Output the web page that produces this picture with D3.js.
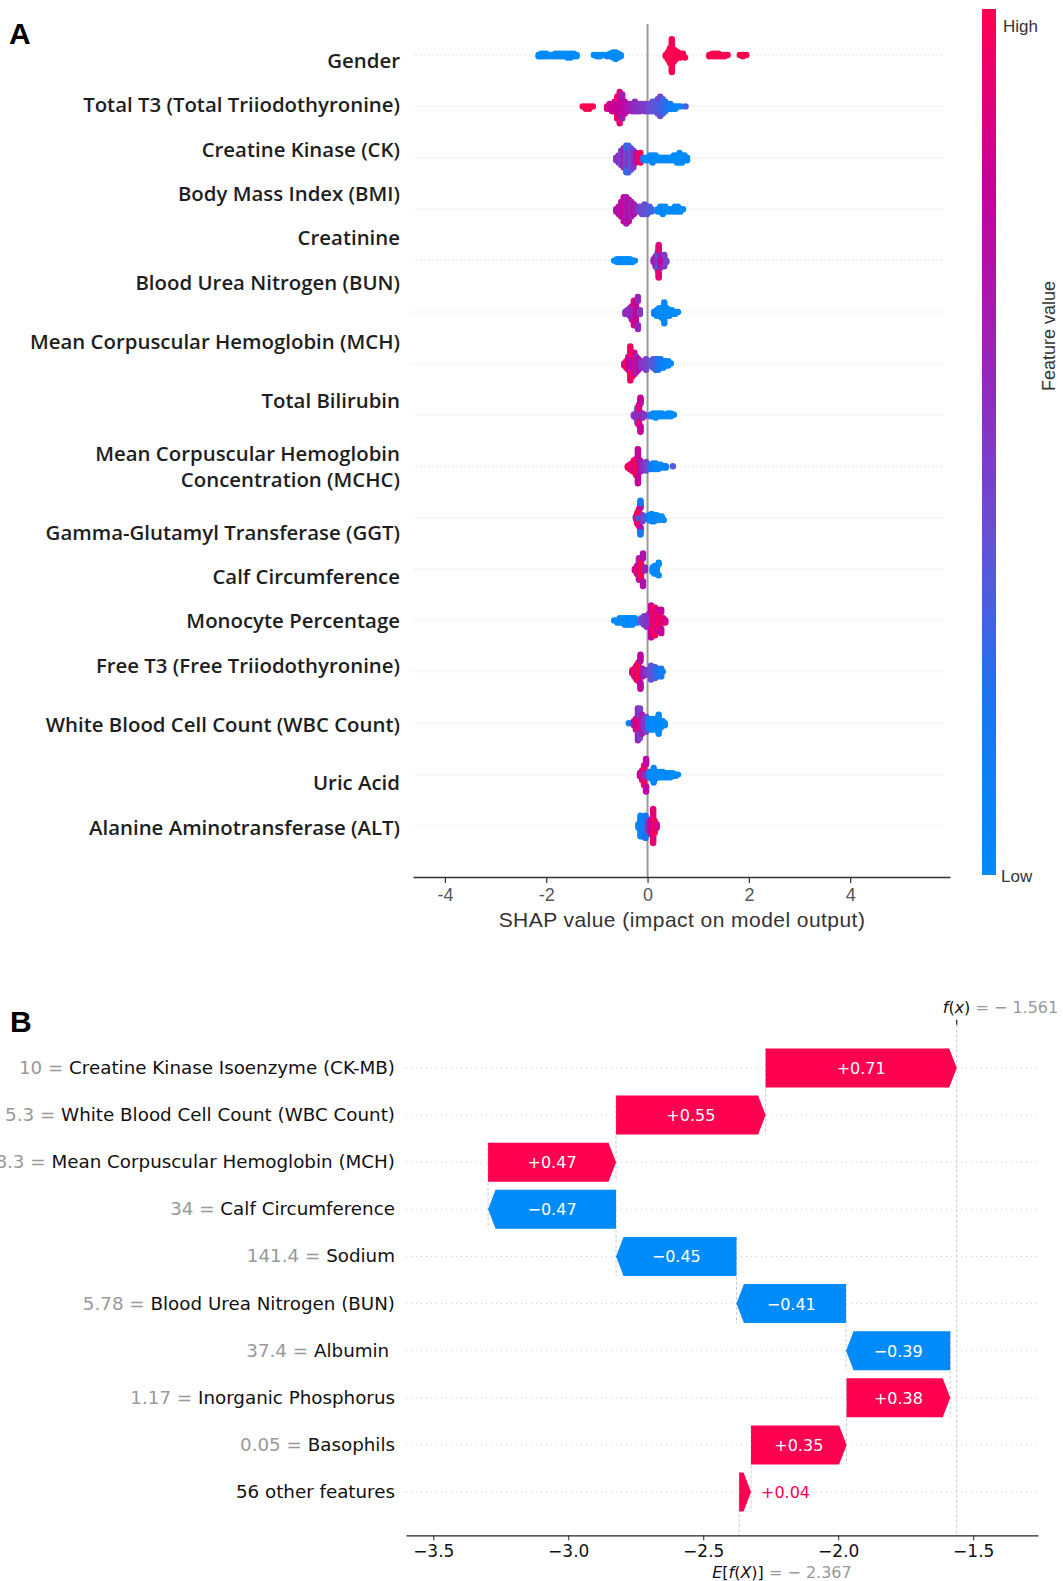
<!DOCTYPE html>
<html>
<head>
<meta charset="utf-8">
<script src="https://cdn.jsdelivr.net/npm/d3@7"></script>
<style>
body { margin: 0; background: #fff; }
svg { display: block; }
</style>
</head>
<body>
<div id="chart"></div>
<script>
// ---------- panel A : SHAP summary (beeswarm) ----------
// feature names, top to bottom
var featuresA = ["Gender", "Total T3 (Total Triiodothyronine)", "Creatine Kinase (CK)", "Body Mass Index (BMI)",
  "Creatinine", "Blood Urea Nitrogen (BUN)", "Mean Corpuscular Hemoglobin (MCH)", "Total Bilirubin",
  "Mean Corpuscular Hemoglobin|Concentration (MCHC)", "Gamma-Glutamyl Transferase (GGT)", "Calf Circumference",
  "Monocyte Percentage", "Free T3 (Free Triiodothyronine)", "White Blood Cell Count (WBC Count)", "Uric Acid",
  "Alanine Aminotransferase (ALT)"];

// points: [shap value, how many dots at that value, feature value 0..1]
var ptsGender = [[-2.15,2,0],[-2.1,3,0.02],[-2.05,3,0],[-2.0,3,0.03],[-1.95,2,0],[-1.88,2,0],[-1.82,3,0],[-1.76,3,0.05],
  [-1.7,3,0],[-1.64,3,0],[-1.58,4,0],[-1.52,4,0.02],[-1.46,3,0],[-1.4,2,0],
  [-1.06,1,0],[-1.0,2,0],[-0.94,2,0],[-0.88,1,0],[-0.8,2,0.05],[-0.74,3,0],[-0.68,5,0],[-0.63,6,0],[-0.58,4,0],[-0.53,2,0],
  [0.36,2,1],[0.4,6,1],[0.44,12,1],[0.48,14,1],[0.52,10,0.98],[0.56,7,1],[0.6,5,1],[0.65,4,1],[0.7,3,1],[0.74,1,1],
  [1.22,2,1],[1.28,3,1],[1.34,3,1],[1.4,3,1],[1.46,2,1],[1.52,2,1],[1.58,1,1],[1.82,1,1],[1.88,2,1],[1.95,1,1]];
var ptsTotalT3 = [[-1.28,1,1],[-1.22,2,1],[-1.15,2,1],[-1.08,1,1],
  [-0.8,2,0.85],[-0.75,3,0.85],[-0.7,4,0.8],[-0.65,5,0.82],[-0.6,6,0.8],[-0.6,4,0.95],[-0.55,8,0.78],[-0.55,6,0.9],
  [-0.5,7,0.8],[-0.5,4,0.65],[-0.45,6,0.75],[-0.4,4,0.7],[-0.35,3,0.65],
  [-0.3,4,0.6],[-0.25,5,0.55],[-0.2,4,0.55],[-0.15,4,0.5],[-0.1,3,0.5],[-0.05,4,0.5],[0.0,4,0.45],
  [0.05,4,0.4],[0.1,5,0.4],[0.15,5,0.35],[0.2,7,0.35],[0.25,6,0.3],[0.25,3,0.45],[0.3,7,0.3],[0.35,5,0.25],[0.4,3,0.2],[0.45,3,0.15],
  [0.5,2,0.1],[0.55,2,0.05],[0.6,1,0.05],[0.66,1,0.05],[0.75,1,0.3]];
var ptsCK = [[-0.62,2,0.5],[-0.57,4,0.55],[-0.52,7,0.45],[-0.47,9,0.6],[-0.42,8,0.4],[-0.42,4,0.25],[-0.38,8,0.55],[-0.38,4,0.3],
  [-0.33,10,0.35],[-0.28,8,0.5],[-0.23,5,0.7],[-0.18,3,0.9],[-0.14,2,1],
  [-0.08,2,0.1],[-0.02,2,0.05],[0.05,3,0],[0.1,4,0.05],[0.16,3,0],[0.22,2,0],[0.28,2,0],[0.34,2,0.05],[0.4,2,0],[0.46,2,0],
  [0.52,3,0],[0.58,4,0],[0.63,5,0],[0.68,4,0],[0.73,3,0],[0.78,2,0.05]];
var ptsBMI = [[-0.62,2,0.7],[-0.57,4,0.75],[-0.52,7,0.7],[-0.47,11,0.8],[-0.42,12,0.65],[-0.37,10,0.75],[-0.32,7,0.6],
  [-0.27,5,0.7],[-0.22,3,0.6],
  [-0.16,3,0.45],[-0.11,4,0.4],[-0.06,5,0.4],[-0.01,4,0.35],[0.04,3,0.35],[0.08,2,0.3],
  [0.2,2,0.05],[0.25,3,0],[0.3,4,0.05],[0.35,3,0],[0.42,2,0],[0.48,2,0],[0.54,3,0],[0.6,3,0],[0.65,2,0],[0.7,1,0]];
var ptsCreatinine = [[-0.66,1,0],[-0.6,3,0],[-0.55,3,0],[-0.5,3,0.05],[-0.45,3,0],[-0.4,3,0],[-0.35,3,0],[-0.3,2,0],[-0.25,1,0],
  [0.12,3,0.55],[0.16,8,0.7],[0.2,8,0.5],[0.2,6,0.35],[0.22,10,0.9],[0.25,10,0.6],[0.29,6,0.8],[0.33,3,0.5],[0.37,2,0.45]];
var ptsBUN = [[-0.44,2,0.5],[-0.4,3,0.6],[-0.35,5,0.5],[-0.31,8,0.65],[-0.27,8,0.55],[-0.27,6,0.9],[-0.23,12,0.8],
  [-0.19,6,0.6],[-0.15,3,0.5],
  [0.13,2,0.1],[0.18,4,0.05],[0.23,5,0],[0.28,6,0],[0.33,6,0.05],[0.38,5,0],[0.43,4,0],[0.48,3,0],[0.54,2,0],[0.6,1,0]];
var ptsMCH = [[-0.46,2,0.9],[-0.42,4,1],[-0.38,7,0.8],[-0.34,10,0.95],[-0.3,8,0.7],[-0.3,4,1],[-0.26,11,0.85],[-0.22,8,0.6],
  [-0.18,6,0.75],[-0.13,4,0.55],[-0.08,3,0.5],[-0.03,3,0.45],[0.02,3,0.45],
  [0.06,3,0.4],[0.11,5,0.35],[0.16,6,0.3],[0.21,6,0.2],[0.26,5,0.15],[0.31,4,0.1],[0.36,3,0.05],[0.41,3,0.05],[0.46,1,0]];
var ptsBilirubin = [[-0.27,2,0.5],[-0.23,4,0.6],[-0.2,8,0.4],[-0.17,8,0.55],[-0.17,7,0.9],[-0.14,10,0.8],[-0.1,4,0.6],[-0.06,2,0.5],
  [0.06,2,0.1],[0.11,3,0],[0.16,4,0],[0.22,3,0],[0.28,3,0],[0.34,2,0],[0.4,3,0],[0.46,3,0],[0.52,1,0]];
var ptsMCHC = [[-0.39,2,1],[-0.35,4,0.95],[-0.31,6,0.9],[-0.27,9,0.85],[-0.23,12,1],[-0.19,13,0.8],[-0.15,9,0.7],
  [-0.11,6,0.6],[-0.07,4,0.5],[-0.03,3,0.45],[0.01,3,0.4],
  [0.06,4,0.2],[0.11,5,0.1],[0.16,5,0.05],[0.21,4,0],[0.26,3,0.05],[0.31,2,0],[0.36,2,0.1],[0.5,1,0.35]];
var ptsGGT = [[-0.23,3,0.6],[-0.2,7,0.9],[-0.17,8,0.3],[-0.17,7,1],[-0.14,8,0.7],[-0.14,6,0.15],[-0.1,6,0.5],[-0.06,3,0.4],[-0.02,3,0.3],
  [0.03,5,0.05],[0.08,7,0],[0.13,6,0.05],[0.18,5,0],[0.23,4,0],[0.28,3,0],[0.32,1,0]];
var ptsCalf = [[-0.25,2,0.8],[-0.21,6,0.9],[-0.17,8,0.85],[-0.17,7,0.6],[-0.13,14,1],[-0.09,8,0.7],[-0.05,3,0.6],
  [0.1,4,0],[0.14,6,0.05],[0.18,6,0],[0.22,3,0]];
var ptsMonocyte = [[-0.66,1,0],[-0.6,2,0],[-0.55,3,0.05],[-0.5,3,0],[-0.45,4,0],[-0.4,4,0],[-0.35,4,0.05],[-0.3,4,0],[-0.25,3,0],[-0.2,2,0.1],
  [-0.12,3,0.4],[-0.07,5,0.45],[-0.02,6,0.5],[0.03,7,0.55],
  [0.07,9,0.8],[0.11,13,0.9],[0.15,14,1],[0.19,11,0.85],[0.23,7,0.95],[0.27,5,0.8],[0.31,3,0.9],[0.35,2,0.85]];
var ptsFreeT3 = [[-0.3,3,0.9],[-0.26,6,0.95],[-0.22,10,0.85],[-0.18,13,1],[-0.14,10,0.75],[-0.1,6,0.7],[-0.06,4,0.6],[-0.02,3,0.5],
  [0.03,4,0.45],[0.07,6,0.4],[0.11,7,0.3],[0.15,8,0.35],[0.19,6,0.25],[0.23,4,0.2],[0.27,2,0.15],[0.3,1,0.1]];
var ptsWBC = [[-0.37,1,0.05],[-0.3,1,0.2],
  [-0.27,3,0.7],[-0.23,6,0.85],[-0.19,10,0.6],[-0.15,8,0.9],[-0.15,7,0.45],[-0.11,10,0.65],[-0.07,5,0.5],[-0.03,3,0.45],
  [0.02,5,0.1],[0.06,6,0.05],[0.1,6,0],[0.14,6,0],[0.18,5,0.05],[0.22,5,0],[0.26,4,0],[0.3,3,0],[0.34,2,0]];
var ptsUric = [[-0.15,3,0.8],[-0.11,8,0.9],[-0.07,9,0.55],[-0.07,7,0.95],[-0.03,10,0.75],[0.0,4,0.5],
  [0.04,5,0.05],[0.08,6,0],[0.12,6,0.05],[0.16,6,0],[0.2,5,0],[0.25,5,0],[0.3,5,0],[0.35,4,0],[0.4,4,0.05],
  [0.45,4,0],[0.5,3,0],[0.55,2,0],[0.6,1,0]];
var ptsALT = [[-0.18,3,0.05],[-0.14,10,0],[-0.11,12,0.1],[-0.08,8,0.05],[-0.04,6,0.2],[0.0,6,0.4],[0.04,7,0.6],
  [0.08,10,0.8],[0.11,11,0.9],[0.14,8,1],[0.18,3,0.85]];

var swarmRows = [ptsGender, ptsTotalT3, ptsCK, ptsBMI, ptsCreatinine, ptsBUN, ptsMCH, ptsBilirubin, ptsMCHC,
  ptsGGT, ptsCalf, ptsMonocyte, ptsFreeT3, ptsWBC, ptsUric, ptsALT];
var ticksA = [-4, -2, 0, 2, 4];

// ---------- panel B : SHAP waterfall ----------
var featValsB = ["10", "5.3", "28.3", "34", "141.4", "5.78", "37.4", "1.17", "0.05", ""];
var featNamesB = ["Creatine Kinase Isoenzyme (CK-MB)", "White Blood Cell Count (WBC Count)",
  "Mean Corpuscular Hemoglobin (MCH)", "Calf Circumference", "Sodium", "Blood Urea Nitrogen (BUN)",
  "Albumin\u00a0", "Inorganic Phosphorus", "Basophils", "56 other features"];
var shapB = [0.708, 0.554, 0.474, -0.474, -0.446, -0.406, -0.386, 0.384, 0.354, 0.044];
var baseValue = -2.367;
var fxValue = -1.561;
var ticksB = [-3.5, -3.0, -2.5, -2.0, -1.5];

// ---------- layout ----------
var W = 1063, H = 1581;
var red = "#ff0051", blue = "#008bfb";
// shap red-blue map, low -> high
var colorFV = d3.piecewise(d3.interpolateRgb,
  [blue, "#1a74f0", "#6a4ed2", "#9a22b8", "#c8009a", red]);
// label positions in panel A (pasted labels, not aligned with the dot rows)
var labelYA = [61, 105, 150, 194, 238, 283, 342, 401, 467, 533, 577, 621, 666, 725, 783, 828];

var svg = d3.select("#chart").append("svg").attr("width", W).attr("height", H)
  .style("font-family", "'Liberation Sans', Arial, sans-serif");
svg.append("rect").attr("width", W).attr("height", H).attr("fill", "#fff");

// panel letters
svg.append("text").attr("x", 9).attr("y", 44).text("A")
  .style("font-size", "30px").style("font-weight", "bold");
svg.append("text").attr("x", 10).attr("y", 1032).text("B")
  .style("font-size", "30px").style("font-weight", "bold");

// ===== panel A =====
var xA = d3.scaleLinear().domain([-4.63, 5.97]).range([413, 950]);
var yA = d3.scalePoint().domain(d3.range(featuresA.length)).range([55, 826]);
var gA = svg.append("g");

// faint row lines
gA.selectAll(".rowline").data(featuresA).enter().append("line")
  .attr("x1", 413).attr("x2", 945)
  .attr("y1", function(d, i) { return yA(i); }).attr("y2", function(d, i) { return yA(i); })
  .attr("stroke", "#d8d8d8").attr("stroke-width", 1).attr("stroke-dasharray", "1,3");

// zero line
gA.append("line").attr("x1", xA(0)).attr("x2", xA(0)).attr("y1", 24).attr("y2", 877)
  .attr("stroke", "#9a9a9a").attr("stroke-width", 2);

// beeswarm: stack dots that fall in the same small x bin
var binW = 2.6;
swarmRows.forEach(function(row, ri) {
  var pts = [];
  row.forEach(function(g) {
    for (var k = 0; k < g[1]; k++) pts.push({px: xA(g[0]), fv: g[2]});
  });
  pts.sort(function(a, b) { return a.px - b.px; });
  var lastBin = null, layer = 0;
  pts.forEach(function(p) {
    var bin = Math.round(p.px / binW);
    if (bin !== lastBin) layer = 0;
    p.k = Math.ceil(layer / 2) * (layer % 2 ? 1 : -1);
    layer++; lastBin = bin;
  });
  var maxK = d3.max(pts, function(p) { return Math.abs(p.k); }) || 1;
  var step = Math.min(2.4, 17 / maxK);
  gA.append("g").selectAll("circle").data(pts).enter().append("circle")
    .attr("cx", function(p) { return p.px; })
    .attr("cy", function(p) { return yA(ri) + p.k * step; })
    .attr("r", 3.2)
    .attr("fill", function(p) { return colorFV(p.fv); });
});

// x axis
var axA = gA.append("g").attr("transform", "translate(0,877)")
  .call(d3.axisBottom(xA).tickValues(ticksA).tickSize(6).tickSizeOuter(0).tickFormat(function(d) { return String(d); }));
axA.select(".domain").attr("stroke", "#333").attr("stroke-width", 1.4);
axA.selectAll(".tick line").attr("stroke", "#333").attr("stroke-width", 1.2);
axA.selectAll(".tick text").attr("y", 11).attr("fill", "#555")
  .style("font-size", "18px").style("font-family", "'Liberation Sans', Arial, sans-serif");
gA.append("text").attr("x", 682).attr("y", 927).attr("text-anchor", "middle")
  .style("font-size", "21px").style("letter-spacing", "0.45px").attr("fill", "#333")
  .text("SHAP value (impact on model output)");

// feature labels
var labA = gA.selectAll(".labA").data(featuresA).enter().append("text")
  .attr("text-anchor", "end").attr("fill", "#1e1e1e")
  .style("font-family", "'Open Sans', 'Noto Sans', sans-serif").style("font-weight", 600).style("font-size", "20.4px");
labA.each(function(d, i) {
  var parts = d.split("|");
  var t = d3.select(this);
  if (parts.length === 1) {
    t.append("tspan").attr("x", 400).attr("y", labelYA[i] + 7).text(parts[0]);
  } else {
    t.append("tspan").attr("x", 400).attr("y", labelYA[i] - 13 + 7).text(parts[0]);
    t.append("tspan").attr("x", 400).attr("y", labelYA[i] + 13 + 7).text(parts[1]);
  }
});

// colour bar
var defs = svg.append("defs");
var grad = defs.append("linearGradient").attr("id", "fvgrad")
  .attr("x1", 0).attr("y1", 1).attr("x2", 0).attr("y2", 0);
d3.range(0, 1.0001, 0.05).forEach(function(t) {
  grad.append("stop").attr("offset", t).attr("stop-color", colorFV(t));
});
svg.append("rect").attr("x", 982).attr("y", 9).attr("width", 14).attr("height", 866).attr("fill", "url(#fvgrad)");
svg.append("text").attr("x", 1003).attr("y", 32).text("High").attr("fill", "#333").style("font-size", "17px");
svg.append("text").attr("x", 1001).attr("y", 882).text("Low").attr("fill", "#333").style("font-size", "17px");
svg.append("text").attr("transform", "translate(1055,336) rotate(-90)").attr("text-anchor", "middle")
  .attr("fill", "#333").style("font-size", "18px").text("Feature value");

// ===== panel B =====
var fontB = "'DejaVu Sans', sans-serif";
var xB = d3.scaleLinear().domain([-3.601, -1.26]).range([406, 1038]);
var yB = d3.scalePoint().domain(d3.range(featNamesB.length)).range([1068, 1492]);
var rowStep = yB.step();
var topB = yB(0) - 0.92 * rowStep, botB = yB(featNamesB.length - 1) + 0.92 * rowStep;
var barH = 39, head = 7.5;
var gB = svg.append("g").style("font-family", fontB);

// horizontal dotted row lines
gB.selectAll(".hl").data(featNamesB).enter().append("line")
  .attr("x1", 406).attr("x2", 1038)
  .attr("y1", function(d, i) { return yB(i); }).attr("y2", function(d, i) { return yB(i); })
  .attr("stroke", "#cccccc").attr("stroke-width", 1).attr("stroke-dasharray", "1,4");

// cumulative positions, built up from the base value at the bottom
var bars = [];
var cum = baseValue;
for (var i = shapB.length - 1; i >= 0; i--) {
  bars[i] = {i: i, v: shapB[i], x0: cum, x1: cum + shapB[i]};
  cum += shapB[i];
}

// connecting dashed lines
bars.forEach(function(b) {
  if (b.i === bars.length - 1) return;
  gB.append("line").attr("x1", xB(b.x0)).attr("x2", xB(b.x0))
    .attr("y1", yB(b.i) - barH / 2).attr("y2", yB(b.i + 1) + barH / 2)
    .attr("stroke", "#bbbbbb").attr("stroke-width", 0.8).attr("stroke-dasharray", "3,2");
});
// f(x) and E[f(X)] lines
gB.append("line").attr("x1", xB(fxValue)).attr("x2", xB(fxValue)).attr("y1", topB).attr("y2", botB)
  .attr("stroke", "#bbbbbb").attr("stroke-width", 0.8).attr("stroke-dasharray", "3,2");
gB.append("line").attr("x1", xB(baseValue)).attr("x2", xB(baseValue))
  .attr("y1", botB - (botB - topB) / featNamesB.length).attr("y2", botB)
  .attr("stroke", "#bbbbbb").attr("stroke-width", 0.8).attr("stroke-dasharray", "3,2");

function arrowPath(b) {
  var p0 = xB(b.x0), p1 = xB(b.x1), yc = yB(b.i);
  var dir = p1 >= p0 ? 1 : -1;
  var hl = Math.min(head, Math.abs(p1 - p0));
  var pb = p1 - dir * hl;
  return "M" + p0 + "," + (yc - barH / 2) + "L" + pb + "," + (yc - barH / 2) + "L" + p1 + "," + yc +
    "L" + pb + "," + (yc + barH / 2) + "L" + p0 + "," + (yc + barH / 2) + "Z";
}
gB.selectAll(".bar").data(bars).enter().append("path")
  .attr("d", arrowPath)
  .attr("fill", function(b) { return b.v >= 0 ? red : blue; });

var fmtB = d3.format("+.2f");
gB.selectAll(".barlab").data(bars).enter().append("text")
  .each(function(b) {
    var t = d3.select(this);
    var p0 = xB(b.x0), p1 = xB(b.x1);
    var inside = Math.abs(p1 - p0) > 60;
    t.attr("y", yB(b.i) + 6).style("font-size", "16px").text(fmtB(b.v));
    if (inside) {
      t.attr("x", (p0 + p1) / 2).attr("text-anchor", "middle").attr("fill", "#fff");
    } else if (b.v >= 0) {
      t.attr("x", p1 + 10).attr("text-anchor", "start").attr("fill", red);
    } else {
      t.attr("x", p1 - 10).attr("text-anchor", "end").attr("fill", blue);
    }
  });

// feature labels
gB.selectAll(".labB").data(featNamesB).enter().append("text")
  .attr("x", 395).attr("y", function(d, i) { return yB(i) + 6; })
  .attr("text-anchor", "end").style("font-size", "18.3px")
  .each(function(d, i) {
    var t = d3.select(this);
    if (featValsB[i] !== "") t.append("tspan").attr("fill", "#999").text(featValsB[i] + " = ");
    t.append("tspan").attr("fill", "#111").text(d);
  });

// bottom axis
var axB = gB.append("g").attr("transform", "translate(0," + botB + ")")
  .call(d3.axisBottom(xB).tickValues(ticksB).tickSize(5).tickSizeOuter(0).tickFormat(d3.format(".1f")));
axB.select(".domain").attr("stroke", "#222").attr("stroke-width", 1.3);
axB.selectAll(".tick line").attr("stroke", "#222");
axB.selectAll(".tick text").attr("y", 10).attr("fill", "#111")
  .style("font-size", "17px").style("font-family", fontB);

// top tick + f(x) label
gB.append("line").attr("x1", xB(fxValue)).attr("x2", xB(fxValue)).attr("y1", topB - 5).attr("y2", topB)
  .attr("stroke", "#222").attr("stroke-width", 1.2);
var fxT = gB.append("text").attr("x", xB(fxValue) - 14).attr("y", topB - 12).style("font-size", "16px");
fxT.append("tspan").attr("fill", "#111").style("font-style", "italic").text("f");
fxT.append("tspan").attr("fill", "#111").text("(");
fxT.append("tspan").attr("fill", "#111").style("font-style", "italic").text("x");
fxT.append("tspan").attr("fill", "#111").text(")");
fxT.append("tspan").attr("fill", "#999").text(" = " + d3.format(".3f")(fxValue).replace("\u2212", "\u2212 "));

var eT = gB.append("text").attr("x", xB(baseValue) - 27).attr("y", botB + 43).style("font-size", "16px");
eT.append("tspan").attr("fill", "#111").style("font-style", "italic").text("E");
eT.append("tspan").attr("fill", "#111").text("[");
eT.append("tspan").attr("fill", "#111").style("font-style", "italic").text("f");
eT.append("tspan").attr("fill", "#111").text("(");
eT.append("tspan").attr("fill", "#111").style("font-style", "italic").text("X");
eT.append("tspan").attr("fill", "#111").text(")]");
eT.append("tspan").attr("fill", "#999").text(" = " + d3.format(".3f")(baseValue).replace("\u2212", "\u2212 "));
</script>
</body>
</html>
